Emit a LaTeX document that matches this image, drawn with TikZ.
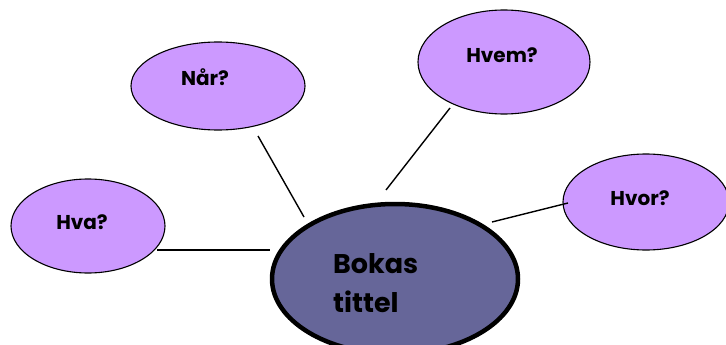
\documentclass[tikz,border=0pt]{standalone}
\usepackage{fontspec}
\setmainfont{Poppins}
\usetikzlibrary{shapes.geometric}
\definecolor{bubblefill}{HTML}{CC99FF}
\definecolor{corefill}{HTML}{666699}
\tikzset{
  bubble/.style={ellipse, draw=black, line width=1.1pt, fill=bubblefill, inner sep=0pt},
  core/.style={ellipse, draw=black, line width=4.5pt, fill=corefill, inner sep=0pt},
  lbl/.style={font=\bfseries\fontsize{20}{24}\selectfont, inner sep=0pt},
  conn/.style={draw=black, line width=1.4pt}
}
\begin{document}
\begin{tikzpicture}[x=1pt,y=-1pt]
\useasboundingbox (0,0) rectangle (726,345);
\clip (0,0) rectangle (726,345);
% outer bubbles
\node[bubble, minimum width=154pt, minimum height=94pt] (hva) at (88,226) {};
\node[bubble, minimum width=174pt, minimum height=88pt] (naar) at (218,86) {};
\node[bubble, minimum width=172pt, minimum height=104pt] (hvem) at (504,62) {};
\node[bubble, minimum width=166pt, minimum height=96pt] (hvor) at (646,202) {};
% centre
\node[core, minimum width=246pt, minimum height=150pt] (bok) at (395,279) {};
% labels
\node[lbl] (hvat) at (82,222) {Hva?};
\node[lbl] (naart) at (205,77) {Når?};
\node[lbl] (hvemt) at (502,55) {Hvem?};
\node[lbl] (hvort) at (640,198) {Hvor?};
\node[anchor=base west, inner sep=0pt, font=\bfseries\fontsize{27}{39}\selectfont] (bokt1) at (333,273) {Bokas};
\node[anchor=base west, inner sep=0pt, font=\bfseries\fontsize{27}{39}\selectfont] (bokt2) at (333,312) {tittel};
% connector ends
\coordinate (c1a) at (157,250); \coordinate (c1b) at (270,250);
\coordinate (c2a) at (258,136); \coordinate (c2b) at (304,217);
\coordinate (c3a) at (450,108); \coordinate (c3b) at (386,190);
\coordinate (c4a) at (568,203); \coordinate (c4b) at (492,222);
\draw[conn] (c1a) -- (c1b);
\draw[conn] (c2a) -- (c2b);
\draw[conn] (c3a) -- (c3b);
\draw[conn] (c4a) -- (c4b);
\end{tikzpicture}
\end{document}
